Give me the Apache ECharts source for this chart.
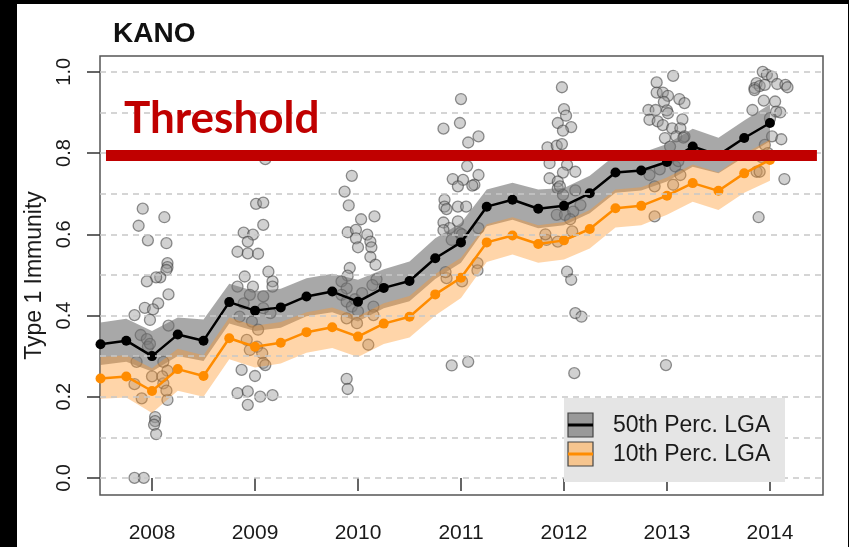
<!DOCTYPE html>
<html>
<head>
<meta charset="utf-8">
<title>KANO</title>
<script src="https://cdn.jsdelivr.net/npm/echarts@6/dist/echarts.min.js"></script>
<style>
  html, body { margin: 0; padding: 0; background: #fff; }
  #chart { width: 849px; height: 547px; }
</style>
</head>
<body>
<div id="chart"></div>
<script>
// quarterly time steps of the two summary lines
const times = [2007.5, 2007.75, 2008, 2008.25, 2008.5, 2008.75, 2009, 2009.25, 2009.5, 2009.75,
  2010, 2010.25, 2010.5, 2010.75, 2011, 2011.25, 2011.5, 2011.75, 2012, 2012.25,
  2012.5, 2012.75, 2013, 2013.25, 2013.5, 2013.75, 2014];

// 50th percentile LGA and its band
const median = [0.329, 0.338, 0.300, 0.353, 0.338, 0.433, 0.412, 0.420, 0.447, 0.459,
  0.434, 0.468, 0.485, 0.541, 0.580, 0.668, 0.685, 0.663, 0.670, 0.701,
  0.752, 0.757, 0.778, 0.816, 0.795, 0.837, 0.874];
const medianUpper = [0.383, 0.392, 0.362, 0.395, 0.390, 0.478, 0.460, 0.466, 0.492, 0.503,
  0.488, 0.514, 0.533, 0.590, 0.628, 0.710, 0.727, 0.710, 0.714, 0.744,
  0.795, 0.800, 0.822, 0.860, 0.838, 0.880, 0.920];
const medianLower = [0.278, 0.286, 0.262, 0.300, 0.288, 0.380, 0.362, 0.370, 0.398, 0.408,
  0.385, 0.418, 0.435, 0.490, 0.530, 0.620, 0.636, 0.615, 0.622, 0.652,
  0.702, 0.708, 0.730, 0.766, 0.750, 0.790, 0.830];

// 10th percentile LGA and its band
const tenth = [0.245, 0.250, 0.214, 0.268, 0.251, 0.344, 0.323, 0.333, 0.359, 0.371,
  0.348, 0.380, 0.397, 0.452, 0.493, 0.580, 0.597, 0.576, 0.585, 0.613,
  0.664, 0.670, 0.695, 0.726, 0.707, 0.750, 0.783];
const tenthUpper = [0.298, 0.302, 0.270, 0.318, 0.302, 0.395, 0.375, 0.384, 0.408, 0.420,
  0.398, 0.430, 0.448, 0.502, 0.542, 0.625, 0.642, 0.622, 0.630, 0.660,
  0.710, 0.716, 0.740, 0.772, 0.752, 0.798, 0.833];
const tenthLower = [0.195, 0.198, 0.160, 0.215, 0.200, 0.292, 0.272, 0.282, 0.308, 0.320,
  0.298, 0.330, 0.346, 0.400, 0.443, 0.532, 0.550, 0.530, 0.538, 0.565,
  0.617, 0.622, 0.648, 0.680, 0.660, 0.702, 0.732];

// LGA points per year: [offset from the year, immunity]
const lga2008 = [[-0.09,0.663],[-0.13,0.621],[0.12,0.642],[-0.04,0.585],[0.14,0.578],[0.15,0.529],
  [0.15,0.519],[0.14,0.512],[0.08,0.494],[0.04,0.494],[-0.05,0.484],[0.16,0.452],[-0.17,0.401],
  [0.06,0.430],[-0.07,0.419],[0.01,0.415],[-0.02,0.389],[0.16,0.375],[-0.11,0.352],[-0.05,0.342],
  [-0.04,0.323],[0.11,0.286],[-0.15,0.286],[0.15,0.264],[0.00,0.250],[0.11,0.233],[-0.17,0.231],
  [-0.10,0.196],[0.15,0.192],[0.14,0.215],[0.03,0.150],[0.03,0.140],[0.02,0.131],[0.04,0.108],
  [-0.17,0.000],[-0.08,0.000],[0.10,0.250],[-0.02,0.330]];
const lga2009 = [[0.01,0.675],[0.08,0.678],[0.08,0.623],[-0.11,0.604],[-0.02,0.599],[-0.07,0.582],
  [-0.17,0.557],[-0.07,0.553],[0.03,0.552],[0.10,0.785],[-0.10,0.496],[-0.17,0.471],[-0.02,0.471],
  [0.17,0.484],[0.17,0.471],[0.13,0.508],[-0.05,0.451],[0.08,0.447],[-0.15,0.397],[-0.03,0.385],
  [0.15,0.406],[0.08,0.418],[-0.08,0.340],[0.02,0.323],[0.07,0.307],[-0.05,0.315],[0.08,0.283],
  [-0.13,0.266],[0.00,0.251],[0.10,0.278],[-0.17,0.209],[-0.07,0.213],[0.05,0.200],[0.17,0.204],
  [-0.07,0.180],[-0.11,0.430],[0.03,0.365]];
const lga2010 = [[-0.06,0.744],[-0.13,0.705],[-0.09,0.671],[0.03,0.637],[0.16,0.644],[-0.10,0.605],
  [-0.02,0.611],[0.09,0.599],[-0.02,0.590],[0.00,0.568],[0.12,0.582],[0.13,0.568],[0.12,0.544],
  [0.17,0.525],[-0.08,0.517],[-0.10,0.498],[0.18,0.489],[-0.16,0.484],[-0.11,0.467],[0.14,0.475],
  [-0.16,0.451],[-0.11,0.434],[-0.06,0.422],[0.00,0.410],[0.15,0.422],[-0.11,0.393],[-0.01,0.381],
  [0.15,0.401],[0.10,0.328],[-0.11,0.244],[-0.10,0.219],[-0.03,0.440],[0.04,0.455]];
const lga2011 = [[0.00,0.933],[-0.01,0.874],[-0.17,0.860],[0.07,0.826],[0.17,0.841],[0.06,0.768],
  [0.17,0.746],[-0.08,0.736],[0.02,0.734],[-0.03,0.718],[0.13,0.722],[0.11,0.720],[-0.16,0.685],
  [-0.16,0.668],[-0.03,0.668],[0.05,0.668],[-0.14,0.662],[-0.17,0.629],[-0.03,0.632],[-0.11,0.615],
  [-0.01,0.603],[-0.09,0.586],[0.01,0.600],[0.17,0.615],[0.16,0.529],[0.16,0.511],[0.01,0.484],
  [-0.14,0.492],[-0.15,0.507],[-0.09,0.277],[0.07,0.286],[-0.17,0.610]];
const lga2012 = [[-0.02,0.962],[0.00,0.908],[-0.06,0.874],[0.02,0.892],[0.07,0.864],[-0.01,0.855],
  [-0.16,0.814],[-0.07,0.818],[-0.02,0.822],[-0.14,0.775],[0.03,0.771],[0.11,0.754],[-0.01,0.752],
  [-0.14,0.738],[-0.06,0.730],[-0.06,0.713],[-0.04,0.718],[-0.01,0.697],[0.11,0.708],[0.16,0.672],
  [-0.07,0.648],[0.01,0.648],[0.09,0.656],[0.06,0.637],[-0.17,0.586],[-0.06,0.582],[0.08,0.607],
  [0.03,0.508],[0.07,0.488],[0.11,0.406],[0.17,0.397],[0.10,0.258],[-0.18,0.600]];
const lga2013 = [[0.06,0.990],[-0.10,0.974],[-0.10,0.949],[-0.04,0.949],[0.01,0.941],[0.12,0.933],
  [0.17,0.923],[-0.18,0.906],[-0.03,0.926],[-0.11,0.906],[0.00,0.905],[0.01,0.898],[-0.17,0.882],
  [-0.09,0.878],[-0.04,0.869],[0.15,0.883],[0.05,0.861],[0.13,0.861],[0.09,0.841],[0.17,0.841],
  [-0.02,0.837],[0.03,0.816],[0.16,0.838],[-0.17,0.746],[0.08,0.767],[0.13,0.746],[0.06,0.722],
  [-0.12,0.718],[-0.12,0.644],[-0.01,0.278],[-0.07,0.760],[0.03,0.790],[0.11,0.780]];
const lga2014 = [[-0.07,1.000],[-0.03,0.993],[0.02,0.988],[-0.13,0.972],[-0.15,0.960],[-0.10,0.965],
  [-0.05,0.968],[0.07,0.970],[0.15,0.968],[0.17,0.962],[-0.15,0.955],[-0.06,0.929],[0.05,0.927],
  [-0.17,0.906],[0.06,0.902],[0.10,0.900],[0.00,0.886],[0.02,0.841],[0.11,0.834],[-0.05,0.820],
  [0.14,0.736],[-0.11,0.642],[-0.13,0.754],[-0.10,0.754],[-0.02,0.800],[-0.08,0.790]];

const years = [2008, 2009, 2010, 2011, 2012, 2013, 2014];
const yearPoints = [lga2008, lga2009, lga2010, lga2011, lga2012, lga2013, lga2014];
const yTicks = [0, 0.2, 0.4, 0.6, 0.8, 1.0];
const gridValues = [0, 0.1, 0.2, 0.3, 0.4, 0.5, 0.6, 0.7, 0.8, 0.9, 1.0];
const threshold = 0.795;
const thresholdSpan = [2007.553, 2014.456];

const lgaData = [];
yearPoints.forEach(function (pts, i) {
  pts.forEach(function (p) { lgaData.push([years[i] + p[0], p[1]]); });
});

function zipLine(vals) {
  return times.map(function (t, i) { return [t, vals[i]]; });
}

// filled band between two lines, drawn through the axes
function band(name, upper, lower, fill) {
  return {
    type: 'custom',
    name: name,
    z: 3,
    silent: true,
    data: [[times[0], lower[0]]],
    renderItem: function (params, api) {
      const pts = [];
      for (let i = 0; i < times.length; i++) pts.push(api.coord([times[i], upper[i]]));
      for (let i = times.length - 1; i >= 0; i--) pts.push(api.coord([times[i], lower[i]]));
      return { type: 'polygon', shape: { points: pts }, style: { fill: fill } };
    }
  };
}

const chart = echarts.init(document.getElementById('chart'));
const axisFont = '"Liberation Sans", Arial, sans-serif';

chart.setOption({
  animation: false,
  backgroundColor: '#fff',
  grid: { left: 100, top: 56, right: 26, bottom: 52, show: true, borderColor: '#555', borderWidth: 1.5, backgroundColor: 'transparent' },
  xAxis: {
    type: 'value',
    min: 2007.495,
    max: 2014.515,
    axisLine: { show: false },
    splitLine: { show: false },
    axisTick: { show: true, customValues: years, length: 13, lineStyle: { color: '#333', width: 1.5 } },
    axisLabel: {
      customValues: years, margin: 28, fontSize: 21, color: '#1a1a1a', fontFamily: axisFont,
      formatter: function (v) { return String(Math.round(v)); }
    }
  },
  yAxis: {
    type: 'value',
    min: -0.042,
    max: 1.039,
    name: 'Type 1 Immunity',
    nameLocation: 'middle',
    nameGap: 54,
    nameTextStyle: { fontSize: 23, color: '#1a1a1a', fontFamily: axisFont },
    axisLine: { show: false },
    splitLine: { show: false },
    axisTick: { show: true, customValues: yTicks, length: 13, lineStyle: { color: '#333', width: 1.5 } },
    axisLabel: {
      customValues: yTicks, rotate: 90, margin: 26, fontSize: 20, color: '#1a1a1a', fontFamily: axisFont,
      formatter: function (v) { return v.toFixed(1); }
    }
  },
  series: [
    {
      type: 'line', name: 'grid', z: 0, silent: true, data: [],
      markLine: {
        silent: true, symbol: 'none', label: { show: false },
        lineStyle: { color: '#c8c8c8', type: [6, 5], width: 1.5 },
        data: gridValues.map(function (v) { return { yAxis: v }; })
      }
    },
    {
      type: 'scatter', name: 'LGA', z: 2, data: lgaData, symbolSize: 11,
      itemStyle: { color: 'rgba(150,150,150,0.55)', borderColor: 'rgba(60,60,60,0.7)', borderWidth: 1.3 }
    },
    band('50th band', medianUpper, medianLower, 'rgba(110,110,110,0.6)'),
    band('10th band', tenthUpper, tenthLower, 'rgba(255,150,40,0.4)'),
    {
      type: 'line', name: '50th Perc. LGA', z: 4, data: zipLine(median),
      symbol: 'circle', symbolSize: 10, showSymbol: true,
      lineStyle: { color: '#000', width: 2.5 }, itemStyle: { color: '#000' }
    },
    {
      type: 'line', name: '10th Perc. LGA', z: 4, data: zipLine(tenth),
      symbol: 'circle', symbolSize: 10, showSymbol: true,
      lineStyle: { color: '#ff8c00', width: 2.5 }, itemStyle: { color: '#ff8c00' }
    },
    {
      type: 'line', name: 'threshold', z: 6, silent: true, data: [],
      markLine: {
        silent: true, symbol: 'none', label: { show: false },
        lineStyle: { color: '#c00000', type: 'solid', width: 11 },
        data: [[{ coord: [thresholdSpan[0], threshold] }, { coord: [thresholdSpan[1], threshold] }]]
      }
    }
  ],
  graphic: [
    // black frame of the original slide
    { type: 'rect', shape: { x: 0, y: 0, width: 17, height: 547 }, style: { fill: '#000' }, z: 100 },
    { type: 'rect', shape: { x: 0, y: 0, width: 849, height: 4 }, style: { fill: '#000' }, z: 100 },
    { type: 'rect', shape: { x: 848, y: 0, width: 1, height: 547 }, style: { fill: '#000' }, z: 100 },
    { type: 'text', x: 113, y: 34, style: { text: 'KANO', font: 'bold 28px "Liberation Sans", Arial, sans-serif', fill: '#111', verticalAlign: 'middle' }, z: 100 },
    { type: 'text', x: 124, y: 119, style: { text: 'Threshold', font: 'bold 44px Lato, "Open Sans", sans-serif', fill: '#c00000', verticalAlign: 'middle' }, z: 100 },
    // legend
    { type: 'rect', shape: { x: 564, y: 398, width: 221, height: 84 }, style: { fill: '#e5e5e5' }, z: 90 },
    { type: 'rect', shape: { x: 568, y: 413, width: 25, height: 24 }, style: { fill: '#999', stroke: '#444', lineWidth: 1.2 }, z: 91 },
    { type: 'line', shape: { x1: 568, y1: 425, x2: 593, y2: 425 }, style: { stroke: '#000', lineWidth: 3 }, z: 92 },
    { type: 'rect', shape: { x: 568, y: 442, width: 25, height: 24 }, style: { fill: '#f6c58f', stroke: '#444', lineWidth: 1.2 }, z: 91 },
    { type: 'line', shape: { x1: 568, y1: 454, x2: 593, y2: 454 }, style: { stroke: '#ff8c00', lineWidth: 3 }, z: 92 },
    { type: 'text', x: 613, y: 426, style: { text: '50th Perc. LGA', font: '23px "Liberation Sans", Arial, sans-serif', fill: '#1a1a1a', verticalAlign: 'middle' }, z: 92 },
    { type: 'text', x: 613, y: 455, style: { text: '10th Perc. LGA', font: '23px "Liberation Sans", Arial, sans-serif', fill: '#1a1a1a', verticalAlign: 'middle' }, z: 92 }
  ]
});
</script>
</body>
</html>
